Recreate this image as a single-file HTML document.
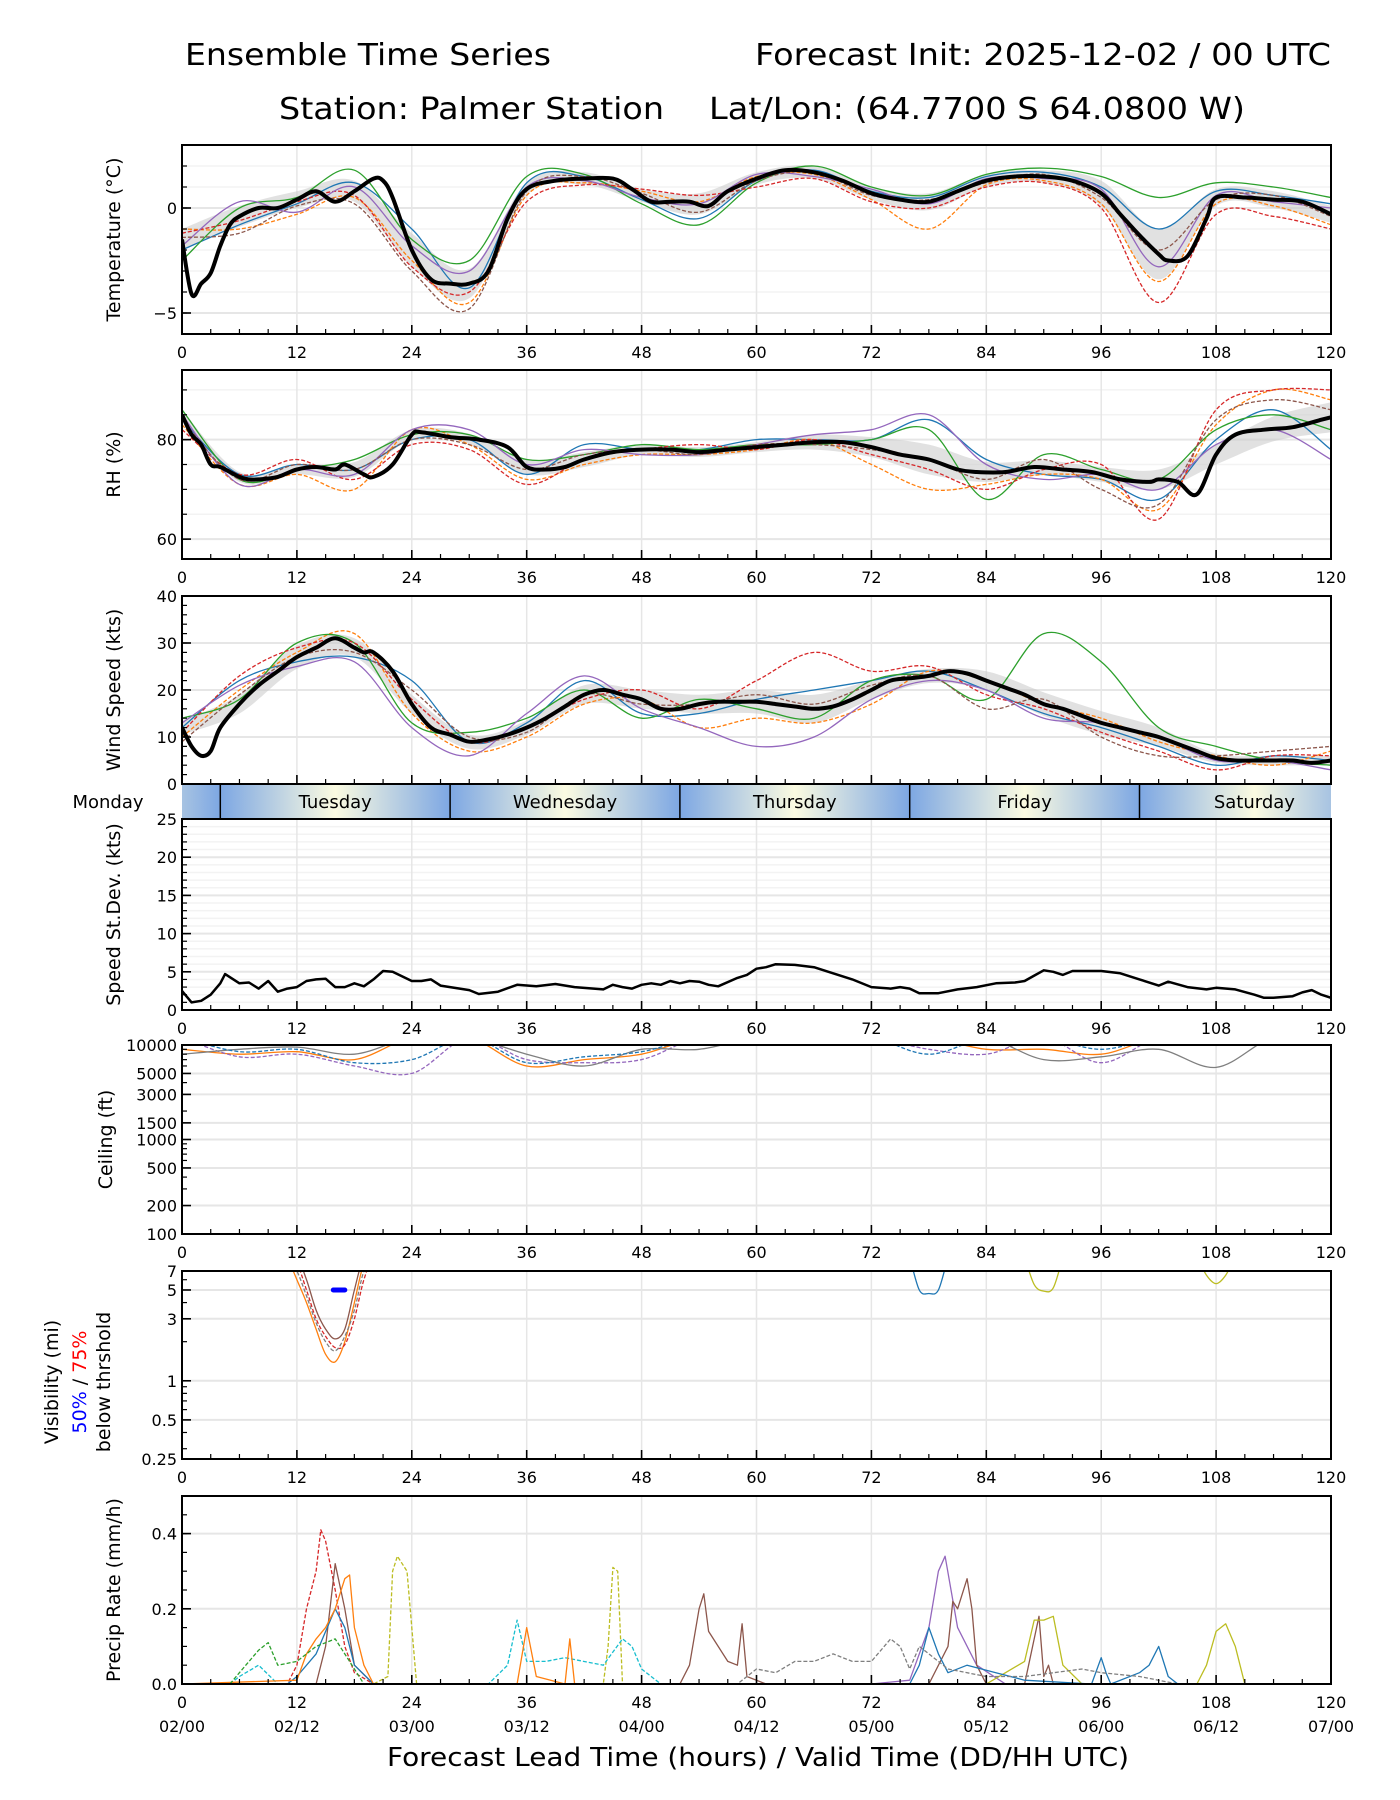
<!DOCTYPE html>
<html><head><meta charset="utf-8"><title>Ensemble Time Series - Palmer Station</title>
<style>
html,body{margin:0;padding:0;background:#fff;}
svg{display:block;font-family:"DejaVu Sans","Liberation Sans",sans-serif;}
</style></head>
<body>
<svg id="chart" xmlns="http://www.w3.org/2000/svg" width="1400" height="1800" viewBox="0 0 1400 1800">
<rect x="0" y="0" width="1400" height="1800" fill="#fff"/>
<text x="185" y="65" font-size="30" textLength="366" lengthAdjust="spacingAndGlyphs">Ensemble Time Series</text>
<text x="1331" y="65" font-size="30" text-anchor="end" textLength="576" lengthAdjust="spacingAndGlyphs">Forecast Init: 2025-12-02 / 00 UTC</text>
<text x="279" y="119" font-size="30" textLength="385" lengthAdjust="spacingAndGlyphs">Station: Palmer Station</text>
<text x="709" y="119" font-size="30" textLength="536" lengthAdjust="spacingAndGlyphs">Lat/Lon: (64.7700 S 64.0800 W)</text>
<text x="758" y="1766" font-size="26" text-anchor="middle" textLength="742" lengthAdjust="spacingAndGlyphs">Forecast Lead Time (hours) / Valid Time (DD/HH UTC)</text>
<g id="root"></g>
</svg>
<script>
// ---------------- DATA ----------------
const tempHours=[0,1,2,3,4,5,6,8,10,12,14,16,18,20,21,22,24,26,28,30,32,34,36,39,42,45,47,49,51,53,55,57,60,63,66,69,72,75,78,81,84,87,90,93,96,98,100,102,103,105,107,108,111,114,117,120];
const tempMean=[-1.5,-4.1,-3.6,-3.1,-1.8,-0.8,-0.4,0,0,0.4,0.8,0.3,0.8,1.4,1.3,0.5,-2.0,-3.4,-3.6,-3.6,-3.0,-0.5,0.9,1.3,1.4,1.4,0.9,0.3,0.3,0.3,0.1,0.8,1.4,1.8,1.7,1.3,0.7,0.4,0.3,0.8,1.3,1.5,1.5,1.3,0.7,-0.3,-1.3,-2.2,-2.5,-2.3,-0.5,0.5,0.5,0.4,0.3,-0.3];
const memberHours=[0,6,12,18,24,30,36,42,48,54,60,66,72,78,84,90,96,102,108,114,120];
const tempMembers=[
[-2,-0.8,0.2,1.2,-1.0,-3.8,1.2,1.5,0.4,-0.5,1.3,1.8,0.8,0.5,1.5,1.7,1.0,-1.0,0.8,0.6,0.2],
[-1,-1.0,-0.3,0.5,-2.5,-4.5,0.6,1.2,0.8,0.3,1.5,1.6,0.4,-1.0,1.1,1.3,0.2,-3.5,0.2,0.1,-0.8],
[-2.5,0,0.5,1.8,-1.5,-2.5,1.5,1.6,0.2,-0.8,1.2,2.0,1.0,0.6,1.6,1.9,1.5,0.5,1.2,1.0,0.5],
[-1.2,-0.6,0.3,0.6,-2.8,-4.0,0.3,1.1,0.9,0.6,1.0,1.4,0.3,0.0,1.0,1.2,0.0,-4.5,-0.3,-0.4,-1.0],
[-1.8,0.3,-0.2,1.0,-1.8,-3.0,1.0,1.3,0.5,0.2,1.6,1.5,0.9,0.2,1.4,1.4,0.9,-2.8,0.6,0.3,0.0],
[-1.4,-1.2,0.1,0.2,-3.0,-4.8,0.8,1.5,0.7,-0.2,1.3,1.7,0.6,0.4,1.2,1.6,0.5,-2.0,0.4,0.6,-0.4]];
const tempSpread=[0.5,0.5,0.4,0.5,0.8,0.7,0.3,0.3,0.3,0.5,0.3,0.3,0.3,0.4,0.3,0.3,0.6,1.2,0.4,0.4,0.4];

const rhHours=[0,1,2,3,4,6,7,8,10,12,14,16,17,19,20,22,24,25,28,31,34,36,38,40,42,45,48,51,54,57,60,63,66,69,72,75,78,81,83,86,89,92,95,98,101,102,104,106,108,110,113,116,119,120];
const rhMean=[85,81,79,75,74.5,72.5,72,72,72.5,74,74.5,74,75,73,72.5,75,81,81.5,80.5,80,78.5,74.5,74,74.5,76,77.5,78,78,77.5,78,78.5,79,79.5,79.5,78.5,77,76,74,73.5,73.5,74.5,74,73.5,72,71.5,72,71.5,69,77,81,82,82.5,84,84.5];
const rhMembers=[
[84,73,75,74,80,80,73,79,78,78,80,80,80,84,76,73,72,68,80,86,78],
[83,71,73,70,82,79,72,75,77,77,78,80,75,70,71,73,72,66,83,90,88],
[86,72,74,76,81,81,76,77,79,78,79,79,80,82,68,77,74,72,82,85,82],
[82,73,76,72,79,78,71,76,78,79,78,80,77,74,70,74,75,64,86,90,90],
[85,71,74,73,82,82,75,78,77,77,79,81,82,85,75,72,73,70,79,82,76],
[84,72,75,74,80,79,74,77,78,77,79,79,78,76,72,76,70,67,84,88,86]];
const rhSpread=[1,1,1,1.5,1,1,1.5,1.5,1,1,1,1.5,2,3,2,1.5,1.5,2,2,2.5,3];

const windHours=[0,1,2,3,4,6,8,10,12,14,16,18,19,20,22,24,26,28,30,32,34,36,38,40,42,44,46,48,50,52,54,56,58,60,62,64,66,68,70,72,74,76,78,80,82,84,86,88,90,92,94,96,98,100,102,104,106,108,110,112,114,116,118,120];
const windMean=[12,8,6,7,12,17,21,24,27,29,31,29,28,28,24,17,12,10.5,9,9.5,10.5,12,14,16.5,19,20,19,18,16,16,17,17.5,17.5,17.5,17,16.5,16,16.5,18,20,22,22.5,23,24,23.5,22,20.5,19,17,16,14.5,13,12,11,10,8.5,7,5.5,5,5,5,5,4.5,5];
const windMembers=[
[12,22,26,27,22,9,13,22,15,15,18,20,22,24,20,15,12,8,4,6,5],
[10,20,28,32,15,7,10,17,18,12,14,13,17,24,22,17,14,9,6,4,7],
[14,18,30,30,13,11,14,20,14,18,16,14,22,23,18,32,26,12,8,5,4],
[11,23,29,30,18,9,12,18,20,16,22,28,24,25,19,16,11,7,3,6,6],
[13,21,25,26,12,6,15,23,16,12,8,10,18,22,20,14,13,10,5,5,3],
[9,19,27,28,20,10,11,19,17,17,19,17,21,23,16,18,10,6,6,7,8]];
const windSpread=[1.5,2,2.5,2,2,1.5,1.5,2,2,2,2.5,3,2,1.5,2,2.5,2.5,2,1,1,1];

const sdHours=[0,1,2,3,4,4.5,6,7,8,9,10,11,12,13,14,15,16,17,18,19,20,21,22,24,25,26,27,29,30,31,33,35,37,39,41,43,44,45,46,47,48,49,50,51,52,53,54,55,56,58,59,60,61,62,64,66,68,70,72,74,75,76,77,79,81,83,85,87,88,89,90,91,92,93,96,98,100,102,103,105,107,108,110,112,113,114,116,117,118,119,120];
const sdValues=[2.5,1.0,1.2,2.0,3.5,4.7,3.5,3.6,2.8,3.8,2.4,2.8,3.0,3.8,4.0,4.1,3.0,3.0,3.5,3.1,4.0,5.1,5.0,3.8,3.8,4.0,3.2,2.8,2.6,2.1,2.4,3.3,3.1,3.4,3.0,2.8,2.7,3.3,3.0,2.8,3.3,3.5,3.3,3.8,3.5,3.8,3.7,3.3,3.1,4.2,4.6,5.4,5.6,6.0,5.9,5.6,4.8,4.0,3.0,2.8,3.0,2.8,2.2,2.2,2.7,3.0,3.5,3.6,3.8,4.5,5.2,5.0,4.6,5.1,5.1,4.8,4.0,3.2,3.7,3.0,2.7,2.9,2.7,2.0,1.6,1.6,1.8,2.3,2.6,2.0,1.6];

const ceilMembers=[
[9000,8000,8500,7000,12000,12000,6000,7000,8000,12000,12000,12000,12000,12000,9000,9000,8000,12000,12000,12000,12000],
[12000,7500,8000,6000,5000,12000,7000,6500,7000,12000,12000,12000,12000,9000,8000,12000,6500,12000,12000,12000,12000],
[8000,9000,9500,8000,12000,12000,8000,6000,9000,9000,12000,12000,12000,12000,12000,7000,7500,9000,5800,12000,12000],
[12000,8500,9000,6500,7000,12000,6500,7500,8500,12000,12000,12000,12000,8000,12000,12000,9000,12000,12000,12000,12000]];

const visHours=[11,12,13,14,15,16,17,18,19,20,21];
const visMembers=[
[9,6,4,2.5,1.6,1.4,2,4,8,9,9],
[9,8,5,3,2.2,1.8,1.9,3,6,9,9],
[9,9,6,3.5,2.5,2.1,2.5,5,9,9,9],
[9,7,4.5,2.8,2.0,1.7,2.2,3.5,7,9,9]];
const visLateHours=[76,77,78,79,80,88,89,90,91,92,106,107,108,109,110];
const visLateValues=[9,5,4.7,5,9,9,5.5,4.9,5.2,9,9,6.5,5.6,6.5,9];
const vis50Hours=[15.8,17];
const vis50Values=[5,5];

const precipHours=[
[0,11,12,13,14,14.5,15,16,17,18,20,120],
[0,20,21.5,22,22.5,23.5,24.5,30,44,44.5,45,45.5,46,50,120],
[0,72,76,78,79,79.7,81,83,86,100,120],
[0,14,15,16,17,18,20,26,52,53,54,54.5,55,56,57,58,58.5,59,61,78,80,80.5,81,82,82.5,83,84,88,89.5,90,90.5,91,120],
[0,84,86,88,89,90,91,92,94,106,107,108,109,110,111,120],
[0,11,12,14,16,17,18,20,76,77,78,79,80,82,85,88,95,96,96.5,97,100,101,102,103,104,120],
[0,5,6,8,10,32,34,35,36,38,40,44,46,47,48,50,120],
[0,58,60,62,64,66,68,70,72,74,75,76,77,78,80,84,88,94,96,100,104,120],
[0,12,13,14,15,16,17,17.5,18,19,20,35,36,37,40,40.5,41,120],
[0,5,6,8,9,10,12,14,16,18,19,120]];
const precipValues=[
[0,0,0.05,0.2,0.3,0.41,0.38,0.25,0.1,0.03,0,0],
[0,0,0.02,0.3,0.34,0.3,0,0,0,0.1,0.31,0.3,0,0,0],
[0,0,0.01,0.15,0.3,0.34,0.15,0.05,0,0,0],
[0,0,0.1,0.32,0.2,0.05,0,0,0,0.05,0.2,0.24,0.14,0.1,0.06,0.05,0.16,0.02,0,0,0.1,0.22,0.2,0.28,0.2,0.05,0,0,0.18,0.02,0.05,0,0],
[0,0,0.03,0.06,0.17,0.17,0.18,0.05,0,0,0.05,0.14,0.16,0.1,0,0],
[0,0,0.02,0.08,0.2,0.15,0.05,0,0,0.05,0.15,0.08,0.03,0.05,0.03,0.01,0,0.07,0.03,0,0.03,0.05,0.1,0.02,0,0],
[0,0,0.02,0.05,0,0,0.05,0.17,0.06,0.06,0.07,0.05,0.12,0.1,0.04,0,0],
[0,0,0.04,0.03,0.06,0.06,0.08,0.06,0.06,0.12,0.1,0.04,0.1,0.08,0.04,0.02,0.02,0.04,0.03,0.02,0,0],
[0,0.01,0.08,0.12,0.15,0.2,0.28,0.29,0.15,0.05,0,0,0.15,0.02,0,0.12,0,0],
[0,0,0.03,0.09,0.11,0.05,0.06,0.1,0.12,0.04,0,0]];
const precipColors=['#d62728','#bcbd22','#9467bd','#8c564b','#bcbd22','#1f77b4','#17becf','#7f7f7f','#ff7f0e','#2ca02c'];
const precipDash=[1,1,0,0,0,0,1,1,0,1];

const xTicks=[0,12,24,36,48,60,72,84,96,108,120];
const dateLabels=['02/00','02/12','03/00','03/12','04/00','04/12','05/00','05/12','06/00','06/12','07/00'];
const dayNames=['Tuesday','Wednesday','Thursday','Friday','Saturday'];
const dayStarts=[4,28,52,76,100];

// ---------------- DRAWING ----------------
const NS='http://www.w3.org/2000/svg';
const root=document.getElementById('root');
const L=182,R=1331;
const COLORS=['#1f77b4','#ff7f0e','#2ca02c','#d62728','#9467bd','#8c564b','#e377c2','#7f7f7f','#bcbd22','#17becf'];
function X(h){return L+(h/120)*(R-L);}
function el(tag,attrs,parent){const e=document.createElementNS(NS,tag);for(const k in attrs)e.setAttribute(k,attrs[k]);(parent||root).appendChild(e);return e;}
function smooth(pts){
  if(pts.length<2)return '';
  let d='M'+pts[0][0].toFixed(1)+','+pts[0][1].toFixed(1);
  for(let i=0;i<pts.length-1;i++){
    const p0=pts[i-1]||pts[i],p1=pts[i],p2=pts[i+1],p3=pts[i+2]||p2;
    const c1x=p1[0]+(p2[0]-p0[0])/6,c1y=p1[1]+(p2[1]-p0[1])/6;
    const c2x=p2[0]-(p3[0]-p1[0])/6,c2y=p2[1]-(p3[1]-p1[1])/6;
    d+=' C'+c1x.toFixed(1)+','+c1y.toFixed(1)+' '+c2x.toFixed(1)+','+c2y.toFixed(1)+' '+p2[0].toFixed(1)+','+p2[1].toFixed(1);
  }
  return d;
}
function poly(pts){return 'M'+pts.map(p=>p[0].toFixed(1)+','+p[1].toFixed(1)).join(' L');}
function interp(hs,vs,h){
  if(h<=hs[0])return vs[0];
  for(let i=0;i<hs.length-1;i++){if(h<=hs[i+1]){const t=(h-hs[i])/(hs[i+1]-hs[i]);return vs[i]+t*(vs[i+1]-vs[i]);}}
  return vs[vs.length-1];
}
let clipId=0;
function makePanel(name,top,bot,lo,hi,log){
  const g=el('g',{});
  
  
  const Y=log?(v=>bot-(Math.log(v)-Math.log(lo))/(Math.log(hi)-Math.log(lo))*(bot-top)):(v=>bot-(v-lo)/(hi-lo)*(bot-top));
  const cid='clip'+(clipId++);
  const cp=el('clipPath',{id:cid},g);
  el('rect',{x:L,y:top,width:R-L,height:bot-top},cp);
  const plot=el('g',{'clip-path':'url(#'+cid+')'},g);
  return {g,plot,Y,top,bot};
}
function grid(P,majors,minors,minorGrid){
  const gg=el('g',{},P.g);
  
  
  P.g.insertBefore(gg,P.plot);
  if(minorGrid){for(const v of minors){el('line',{x1:L,x2:R,y1:P.Y(v),y2:P.Y(v),stroke:'#f3f3f3','stroke-width':1.5},gg);}}
  for(const h of xTicks){el('line',{x1:X(h),x2:X(h),y1:P.top,y2:P.bot,stroke:'#e6e6e6','stroke-width':1.5},gg);}
  for(const v of majors){el('line',{x1:L,x2:R,y1:P.Y(v),y2:P.Y(v),stroke:'#e6e6e6','stroke-width':2},gg);}
}
function axes(P,majors,labels,minors,ylabel,ylabelX,showX){
  const ax=el('g',{},P.g);
  
  
  el('rect',{x:L,y:P.top,width:R-L,height:P.bot-P.top,fill:'none',stroke:'#000','stroke-width':2},ax);
  for(let h=0;h<=120;h+=3){const mj=h%12===0;el('line',{x1:X(h),x2:X(h),y1:P.bot,y2:P.bot-(mj?9:5),stroke:'#000','stroke-width':mj?1.6:1.2},ax);}
  for(const v of minors){el('line',{x1:L,x2:L+5,y1:P.Y(v),y2:P.Y(v),stroke:'#000','stroke-width':1.2},ax);}
  majors.forEach((v,i)=>{
    el('line',{x1:L,x2:L+9,y1:P.Y(v),y2:P.Y(v),stroke:'#000','stroke-width':1.6},ax);
    const t=el('text',{x:L-5,y:P.Y(v)+6,'font-size':16,'text-anchor':'end'},ax);
    t.textContent=labels[i];
    
    
  });
  if(showX){
    for(const h of xTicks){
      const t=el('text',{x:X(h),y:P.bot+24,'font-size':16,'text-anchor':'middle'},ax);
      t.textContent=String(h);
      
      
    }
  }
  if(ylabel){
    const cy=(P.top+P.bot)/2;
    const t=el('text',{x:ylabelX,y:cy,'font-size':19,'text-anchor':'middle',transform:'rotate(-90 '+ylabelX+' '+cy+')'},ax);
    t.textContent=ylabel;
    
    
  }
}
function ensemble(P,name,hours,mean,members,spread){
  const up=memberHours.map((h,i)=>[X(h),P.Y(interp(hours,mean,h)+spread[i])]);
  const dn=memberHours.map((h,i)=>[X(h),P.Y(interp(hours,mean,h)-spread[i])]).reverse();
  const band=el('path',{d:smooth(up)+' L'+smooth(dn).slice(1)+' Z',fill:'#c8c8c8','fill-opacity':0.55,stroke:'none'},P.plot);
  
  
  members.forEach((m,i)=>{
    const pts=memberHours.map((h,j)=>[X(h),P.Y(m[j])]);
    const p=el('path',{d:smooth(pts),fill:'none',stroke:COLORS[i%10],'stroke-width':1.3,'stroke-dasharray':i%2?'4,2':'none'},P.plot);
    
    
  });
  const mp=hours.map((h,i)=>[X(h),P.Y(mean[i])]);
  const ml=el('path',{d:smooth(mp),fill:'none',stroke:'#000','stroke-width':4,'stroke-linejoin':'round'},P.plot);
  
  
}
function range(a,b,s){const r=[];for(let v=a;v<=b+1e-9;v+=s)r.push(+v.toFixed(3));return r;}

// Temperature
const PT=makePanel('temperature',145,334,-6,3,false);
grid(PT,[-5,0],range(-6,3,1),true);
ensemble(PT,'temperature',tempHours,tempMean,tempMembers,tempSpread);
axes(PT,[-5,0],['\u22125','0'],range(-6,3,1),'Temperature (\u00B0C)',120,true);

// RH
const PR=makePanel('rh',370,559,56,94,false);
grid(PR,[60,80],range(60,90,5),true);
ensemble(PR,'rh',rhHours,rhMean,rhMembers,rhSpread);
axes(PR,[60,80],['60','80'],range(60,90,5),'RH (%)',120,true);

// Wind
const PW=makePanel('wind-speed',596,784,0,40,false);
grid(PW,[0,10,20,30,40],range(0,40,2),false);
ensemble(PW,'wind-speed',windHours,windMean,windMembers,windSpread);
axes(PW,[0,10,20,30,40],['0','10','20','30','40'],range(0,40,2),'Wind Speed (kts)',120,false);

// Day band
(function(){
  const g=el('g',{});
  
  
  const defs=el('defs',{},g);
  const top=785,h=33;
  const bounds=[-20].concat(dayStarts).concat([124]);
  for(let i=0;i<bounds.length-1;i++){
    const a=Math.max(0,bounds[i]),b=Math.min(120,bounds[i+1]);
    const full0=X(bounds[i]),full1=X(bounds[i]+24);
    const gid='dg'+i;
    const lg=el('linearGradient',{id:gid,gradientUnits:'userSpaceOnUse',x1:full0,x2:full1,y1:0,y2:0},defs);
    el('stop',{offset:'0','stop-color':'#7da7e3'},lg);
    el('stop',{offset:'0.5','stop-color':'#fbfbe1'},lg);
    el('stop',{offset:'1','stop-color':'#7da7e3'},lg);
    const r=el('rect',{x:X(a),y:top,width:X(b)-X(a),height:h,fill:'url(#'+gid+')'},g);
    
    
  }
  dayStarts.forEach((d,i)=>{
    el('line',{x1:X(d),x2:X(d),y1:top,y2:top+h,stroke:'#000','stroke-width':1.5},g);
    const t=el('text',{x:X(d+12),y:top+23,'font-size':18,'text-anchor':'middle'},g);
    t.textContent=dayNames[i];
    
    
  });
  const m=el('text',{x:108,y:top+23,'font-size':18,'text-anchor':'middle'},g);
  m.textContent='Monday';
  
  
})();

// Speed st dev
const PS=makePanel('speed-stdev',819,1010,0,25,false);
grid(PS,[0,5,10,15,20,25],range(0,25,1),true);
(function(){
  const pts=sdHours.map((h,i)=>[X(h),PS.Y(sdValues[i])]);
  const p=el('path',{d:poly(pts),fill:'none',stroke:'#000','stroke-width':2.5,'stroke-linejoin':'round'},PS.plot);
  
  
})();
axes(PS,[0,5,10,15,20,25],['0','5','10','15','20','25'],range(0,25,1),'Speed St.Dev. (kts)',120,true);

// Ceiling
const PC=makePanel('ceiling',1045,1234,100,10000,true);
const ceilMaj=[100,200,500,1000,1500,3000,5000,10000];
const ceilMin=[300,400,600,700,800,900,2000,4000,6000,7000,8000,9000];
grid(PC,ceilMaj,[],false);
ceilMembers.forEach((m,i)=>{
  const pts=memberHours.map((h,j)=>[X(h),PC.Y(m[j])]);
  const p=el('path',{d:smooth(pts),fill:'none',stroke:COLORS[(i*3+1)%10],'stroke-width':1.3,'stroke-dasharray':i%2?'4,2':'none'},PC.plot);
  
  
});
axes(PC,ceilMaj,ceilMaj.map(String),ceilMin,'Ceiling (ft)',112,true);

// Visibility
const PV=makePanel('visibility',1271,1459,0.25,7,true);
const visMaj=[0.25,0.5,1,3,5,7];
grid(PV,visMaj,[],false);
visMembers.forEach((m,i)=>{
  const pts=visHours.map((h,j)=>[X(h),PV.Y(m[j])]);
  const p=el('path',{d:smooth(pts),fill:'none',stroke:COLORS[(i*2+1)%10],'stroke-width':1.3,'stroke-dasharray':i%2?'4,2':'none'},PV.plot);
  
  
});
(function(){
  const segs=[[0,5],[5,10],[10,15]];const cols=['#1f77b4','#bcbd22','#bcbd22'];
  segs.forEach((s,k)=>{
    const pts=visLateHours.slice(s[0],s[1]).map((h,j)=>[X(h),PV.Y(visLateValues[s[0]+j])]);
    const p=el('path',{d:smooth(pts),fill:'none',stroke:cols[k],'stroke-width':1.3},PV.plot);
    
    
  });
  const b=el('path',{d:poly(vis50Hours.map((h,i)=>[X(h),PV.Y(vis50Values[i])])),stroke:'#0000ff','stroke-width':5,'stroke-linecap':'round',fill:'none'},PV.plot);
  
  
})();
axes(PV,visMaj,['0.25','0.5','1','3','5','7'],[2,4,6,0.3,0.4,0.6,0.7,0.8,0.9],null,0,true);
(function(){
  const cy=1382;
  const t1=el('text',{x:58,y:cy,'font-size':19,'text-anchor':'middle',transform:'rotate(-90 58 '+cy+')'});
  t1.textContent='Visibility (mi)';
  
  
  const t2=el('text',{x:86,y:cy,'font-size':19,'text-anchor':'middle',transform:'rotate(-90 86 '+cy+')'});
  
  
  const s1=el('tspan',{fill:'#0000ff'},t2);s1.textContent='50%';
  const s2=el('tspan',{fill:'#000'},t2);s2.textContent=' / ';
  const s3=el('tspan',{fill:'#ff0000'},t2);s3.textContent='75%';
  const t3=el('text',{x:110,y:cy,'font-size':19,'text-anchor':'middle',transform:'rotate(-90 110 '+cy+')'});
  t3.textContent='below thrshold';
  
  
})();

// Precip
const PP=makePanel('precip-rate',1496,1684,0,0.5,false);
grid(PP,[0,0.2,0.4],[],false);
precipHours.forEach((hs,i)=>{
  const pts=hs.map((h,j)=>[X(h),PP.Y(precipValues[i][j])]);
  const p=el('path',{d:poly(pts),fill:'none',stroke:precipColors[i],'stroke-width':1.3,'stroke-dasharray':precipDash[i]?'4,2':'none','stroke-linejoin':'round'},PP.plot);
  
  
});
axes(PP,[0,0.2,0.4],['0.0','0.2','0.4'],range(0,0.5,0.05),'Precip Rate (mm/h)',120,true);
xTicks.forEach((h,i)=>{
  const t=el('text',{x:X(h),y:1684+48,'font-size':16,'text-anchor':'middle'});
  t.textContent=dateLabels[i];
  
  
});
</script>
</body></html>
